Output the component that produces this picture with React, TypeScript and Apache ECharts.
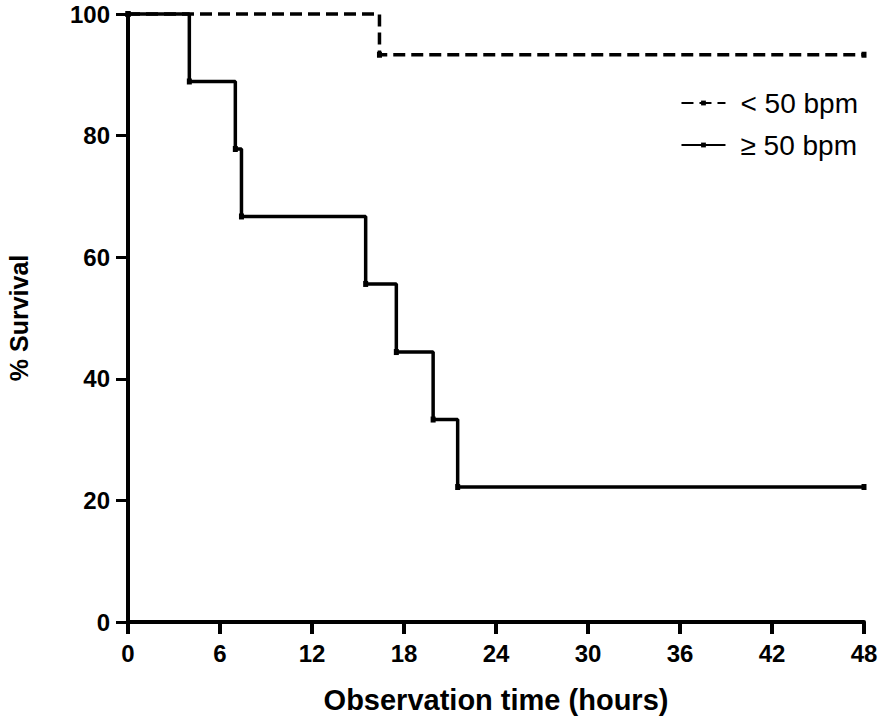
import React, { useEffect, useRef } from "react";
import * as echarts from "echarts";

const xTicksInterval = 6;
const yTicksInterval = 20;

// < 50 bpm (dashed)
const lowTimes = [0, 16.4, 48];
const lowSurvival = [100, 93.3, 93.3];

// ≥ 50 bpm (solid)
const highTimes = [0, 4, 7, 7.4, 15.5, 17.5, 19.9, 21.5, 48];
const highSurvival = [100, 88.9, 77.8, 66.7, 55.6, 44.4, 33.3, 22.2, 22.2];

const seriesNames = ["< 50 bpm", "≥ 50 bpm"];

const FONT = '"Liberation Sans", Arial, Helvetica, sans-serif';

export default function App() {
  const ref = useRef<HTMLDivElement>(null);
  useEffect(() => {
    document.body.style.margin = "0";
    if (!ref.current) return;
    const chart = echarts.init(ref.current, undefined, { renderer: "svg" });
    const pair = (xs: number[], ys: number[]) => xs.map((x, i) => [x, ys[i]]);
    chart.setOption({
      animation: false,
      backgroundColor: "#fff",
      textStyle: { fontFamily: FONT },
      grid: {
        left: 128,
        right: 32,
        top: 14,
        bottom: 95,
        containLabel: false,
        outerBoundsMode: "none",
      },
      legend: {
        orient: "vertical",
        right: 33,
        top: 84,
        itemWidth: 44,
        itemHeight: 6,
        itemGap: 14,
        data: seriesNames,
        textStyle: {
          fontSize: 28,
          color: "#000",
          fontFamily: FONT,
          padding: [0, 0, 0, 10],
        },
      },
      xAxis: {
        type: "value",
        min: 0,
        max: 48,
        interval: xTicksInterval,
        name: "Observation time (hours)",
        nameLocation: "middle",
        nameGap: 63,
        nameTextStyle: { fontSize: 29, fontWeight: "bold", color: "#000", fontFamily: FONT },
        axisLine: { show: true, lineStyle: { color: "#000", width: 4 } },
        axisTick: { show: true, length: 12, lineStyle: { color: "#000", width: 4 } },
        axisLabel: { fontSize: 24, fontWeight: "bold", color: "#000", margin: 19, fontFamily: FONT },
        splitLine: { show: false },
      },
      yAxis: {
        type: "value",
        min: 0,
        max: 100,
        interval: yTicksInterval,
        name: "% Survival",
        nameLocation: "middle",
        nameGap: 97,
        nameTextStyle: { fontSize: 25, fontWeight: "bold", color: "#000", fontFamily: FONT },
        axisLine: { show: true, lineStyle: { color: "#000", width: 4 } },
        axisTick: { show: true, length: 12, lineStyle: { color: "#000", width: 3 } },
        axisLabel: {
          fontSize: 24,
          fontWeight: "bold",
          color: "#000",
          margin: 18,
          fontFamily: FONT,
        },
        splitLine: { show: false },
      },
      series: [
        {
          name: seriesNames[1],
          type: "line",
          step: "end",
          data: pair(highTimes, highSurvival),
          clip: false,
          symbol: "rect",
          symbolSize: [5, 6],
          itemStyle: { color: "#000" },
          lineStyle: { color: "#000", width: 3.5, type: "solid" },
          z: 2,
        },
        {
          name: seriesNames[0],
          type: "line",
          step: "end",
          data: pair(lowTimes, lowSurvival),
          clip: false,
          symbol: "rect",
          symbolSize: [5, 6],
          itemStyle: { color: "#000" },
          lineStyle: { color: "#000", width: 3.5, type: [12, 6] },
          z: 3,
        },
      ],
    });
    return () => chart.dispose();
  }, []);
  return <div ref={ref} style={{ width: 896, height: 717 }} />;
}
